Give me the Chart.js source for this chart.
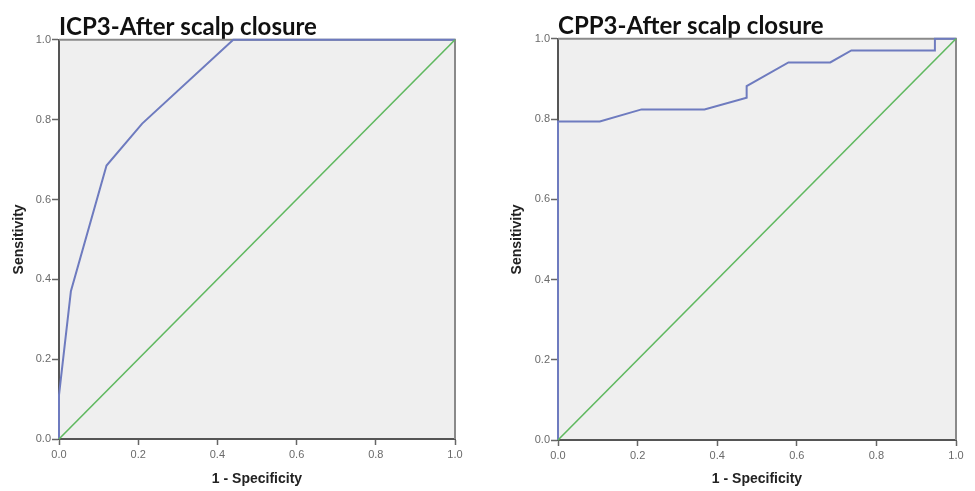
<!DOCTYPE html>
<html>
<head>
<meta charset="utf-8">
<script src="https://cdn.jsdelivr.net/npm/chart.js@4/dist/chart.umd.min.js"></script>
<style>
  html, body { margin: 0; padding: 0; background: #fff; }
  .panel { position: absolute; top: 0; width: 487px; height: 491px; }
  #leftBox { left: 0; }
  #rightBox { left: 488px; }
</style>
</head>
<body>
<div class="panel" id="leftBox"><canvas id="chartICP" width="487" height="491"></canvas></div>
<div class="panel" id="rightBox"><canvas id="chartCPP" width="487" height="491"></canvas></div>
<script>
/* globals Chart:false */
// ROC curve points (1 - specificity, sensitivity)
const icpFpr = [0, 0, 0.03, 0.12, 0.21, 0.44, 1];
const icpTpr = [0, 0.11, 0.37, 0.685, 0.79, 1, 1];

const cppFpr = [0, 0, 0.105, 0.21, 0.368, 0.474, 0.474, 0.579, 0.684, 0.737, 0.947, 0.947, 1];
const cppTpr = [0, 0.794, 0.794, 0.824, 0.824, 0.853, 0.882, 0.941, 0.941, 0.971, 0.971, 1, 1];

// reference diagonal
const refX = [0, 1];
const refY = [0, 1];

const tickValues = [0, 0.2, 0.4, 0.6, 0.8, 1.0];

const toPoints = (xs, ys) => xs.map((x, i) => ({x: x, y: ys[i]}));

// grey plot background + top/right frame
const plotFrame = {
  id: 'plotFrame',
  beforeDraw(chart) {
    const a = chart.chartArea;
    const ctx = chart.ctx;
    ctx.save();
    ctx.fillStyle = '#efefef';
    ctx.fillRect(a.left, a.top, a.right - a.left, a.bottom - a.top);
    ctx.restore();
  },
  beforeDatasetsDraw(chart) {
    const a = chart.chartArea;
    const ctx = chart.ctx;
    ctx.save();
    ctx.strokeStyle = '#8a8a8a';
    ctx.lineWidth = 2;
    ctx.beginPath();
    ctx.moveTo(a.left, a.top);
    ctx.lineTo(a.right, a.top);
    ctx.lineTo(a.right, a.bottom);
    ctx.stroke();
    ctx.restore();
  }
};

function makeRoc(canvasId, title, xs, ys, opt) {
  const el = document.getElementById(canvasId);
  if (!el) return;
  new Chart(el, {
    type: 'scatter',
    data: {
      datasets: [{
        label: 'Reference Line',
        data: toPoints(refX, refY),
        showLine: true,
        borderColor: '#5fb85f',
        borderWidth: 1.6,
        pointRadius: 0,
        clip: 4
      }, {
        label: title,
        data: toPoints(xs, ys),
        showLine: true,
        borderColor: '#6e7bbf',
        borderWidth: 2,
        pointRadius: 0,
        clip: 4
      }]
    },
    options: {
      responsive: false,
      animation: false,
      layout: { padding: { left: 0, right: opt.padRight, top: 0, bottom: 0 } },
      plugins: {
        legend: { display: false },
        tooltip: { enabled: false },
        title: {
          display: true,
          text: title,
          align: 'start',
          fullSize: false,
          color: '#111',
          font: { family: 'Lato', weight: 'bold', size: 24 },
          padding: { top: opt.titleTop, bottom: -2 }
        }
      },
      scales: {
        x: {
          type: 'linear',
          min: 0,
          max: 1,
          afterBuildTicks: (s) => { s.ticks = tickValues.map(v => ({value: v})); },
          afterFit: (s) => { s.height = opt.xAxisHeight; },
          ticks: {
            color: '#6a6a6a',
            font: { family: 'Liberation Sans', size: 11 },
            padding: 3,
            callback: (v) => Number(v).toFixed(1)
          },
          grid: { drawOnChartArea: false, drawTicks: true, tickLength: 6, color: '#666', tickWidth: 1.5 },
          border: { display: true, color: '#555', width: 2 },
          title: {
            display: true,
            text: '1 - Specificity',
            color: '#222',
            font: { family: 'Liberation Sans', weight: 'bold', size: 14 },
            padding: { top: 0, bottom: 3.6 }
          }
        },
        y: {
          type: 'linear',
          min: 0,
          max: 1,
          afterBuildTicks: (s) => { s.ticks = tickValues.map(v => ({value: v})); },
          afterFit: (s) => { s.width = opt.yAxisWidth; },
          ticks: {
            color: '#6a6a6a',
            font: { family: 'Liberation Sans', size: 11 },
            padding: 1,
            callback: (v) => Number(v).toFixed(1)
          },
          grid: { drawOnChartArea: false, drawTicks: true, tickLength: 7, color: '#666', tickWidth: 1.5 },
          border: { display: true, color: '#555', width: 2 },
          title: {
            display: true,
            text: 'Sensitivity',
            color: '#222',
            font: { family: 'Liberation Sans', weight: 'bold', size: 14 },
            padding: { top: opt.yTitlePad, bottom: 0 }
          }
        }
      }
    },
    plugins: [plotFrame]
  });
}

makeRoc('chartICP', 'ICP3-After scalp closure', icpFpr, icpTpr,
  { padRight: 32, titleTop: 13, xAxisHeight: 52, yAxisWidth: 59, yTitlePad: 10.4 });

makeRoc('chartCPP', 'CPP3-After scalp closure', cppFpr, cppTpr,
  { padRight: 19, titleTop: 12, xAxisHeight: 51, yAxisWidth: 70, yTitlePad: 20.6 });
</script>
</body>
</html>
